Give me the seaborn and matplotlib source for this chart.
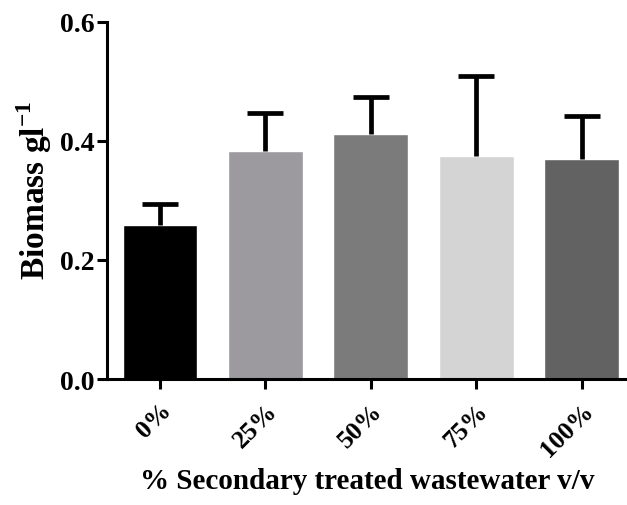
import numpy as np
import pandas as pd
import matplotlib
matplotlib.use("Agg")
import matplotlib.pyplot as plt
import seaborn as sns

# values
categories = ["0%", "25%", "50%", "75%", "100%"]
biomass = [0.258, 0.383, 0.411, 0.374, 0.370]
sd = [0.036, 0.064, 0.063, 0.135, 0.072]
bar_colors = ["#000000", "#9d9a9f", "#7b7b7b", "#d4d4d4", "#626262"]

sns.set_theme(style="ticks")
plt.rcParams["font.family"] = ["Liberation Serif", "DejaVu Serif"]
plt.rcParams["font.weight"] = "bold"
plt.rcParams["mathtext.fontset"] = "custom"
plt.rcParams["mathtext.rm"] = "Liberation Serif:bold"
plt.rcParams["mathtext.bf"] = "Liberation Serif:bold"
plt.rcParams["text.color"] = "black"
plt.rcParams["axes.labelcolor"] = "black"
plt.rcParams["xtick.color"] = "black"
plt.rcParams["ytick.color"] = "black"
plt.rcParams["axes.edgecolor"] = "black"

df = pd.DataFrame({"conc": categories, "biomass": biomass})

fig = plt.figure(figsize=(6.27, 5.06), dpi=100)
ax = fig.add_axes([0.171, 0.249, 0.829, 0.706])

sns.barplot(data=df, x="conc", y="biomass", hue="conc", palette=bar_colors,
            legend=False, width=0.71, errorbar=None, ax=ax, saturation=1)
x = np.arange(len(categories))
_, caps, _ = ax.errorbar(x, biomass, yerr=[np.zeros(len(sd)), sd], fmt="none",
                         ecolor="black", elinewidth=3.4, capsize=13,
                         capthick=3.4, zorder=3)
caps[0].set_visible(False)  # only the upper cap, as in the original

ax.set_ylim(0, 0.6)
ax.set_xlim(-0.5, 4.43)
ax.set_yticks([0.0, 0.2, 0.4, 0.6])
ax.set_yticklabels(["0.0", "0.2", "0.4", "0.6"])
ax.tick_params(axis="both", width=2.2, length=7, labelsize=20)
ax.tick_params(axis="x", pad=7, labelsize=18.5)
ax.tick_params(axis="y", pad=2)
for lab in ax.get_xticklabels():
    lab.set_rotation(45)
    lab.set_ha("right")
    lab.set_rotation_mode("anchor")
    lab.set_fontweight("bold")
for lab in ax.get_yticklabels():
    lab.set_fontweight("bold")

sns.despine(ax=ax)
ax.spines["left"].set_linewidth(2.2)
ax.spines["bottom"].set_linewidth(2.2)

ax.set_xlabel("% Secondary treated wastewater v/v", fontsize=21,
              fontweight="bold", va="center")
ax.xaxis.set_label_coords(0.5, -0.285)
ax.set_ylabel("Biomass gl$^{-1}$", fontsize=24, fontweight="bold", va="center")
ax.yaxis.set_label_coords(-0.14, 0.53)

fig.savefig("out.png", dpi=100, facecolor="white")
